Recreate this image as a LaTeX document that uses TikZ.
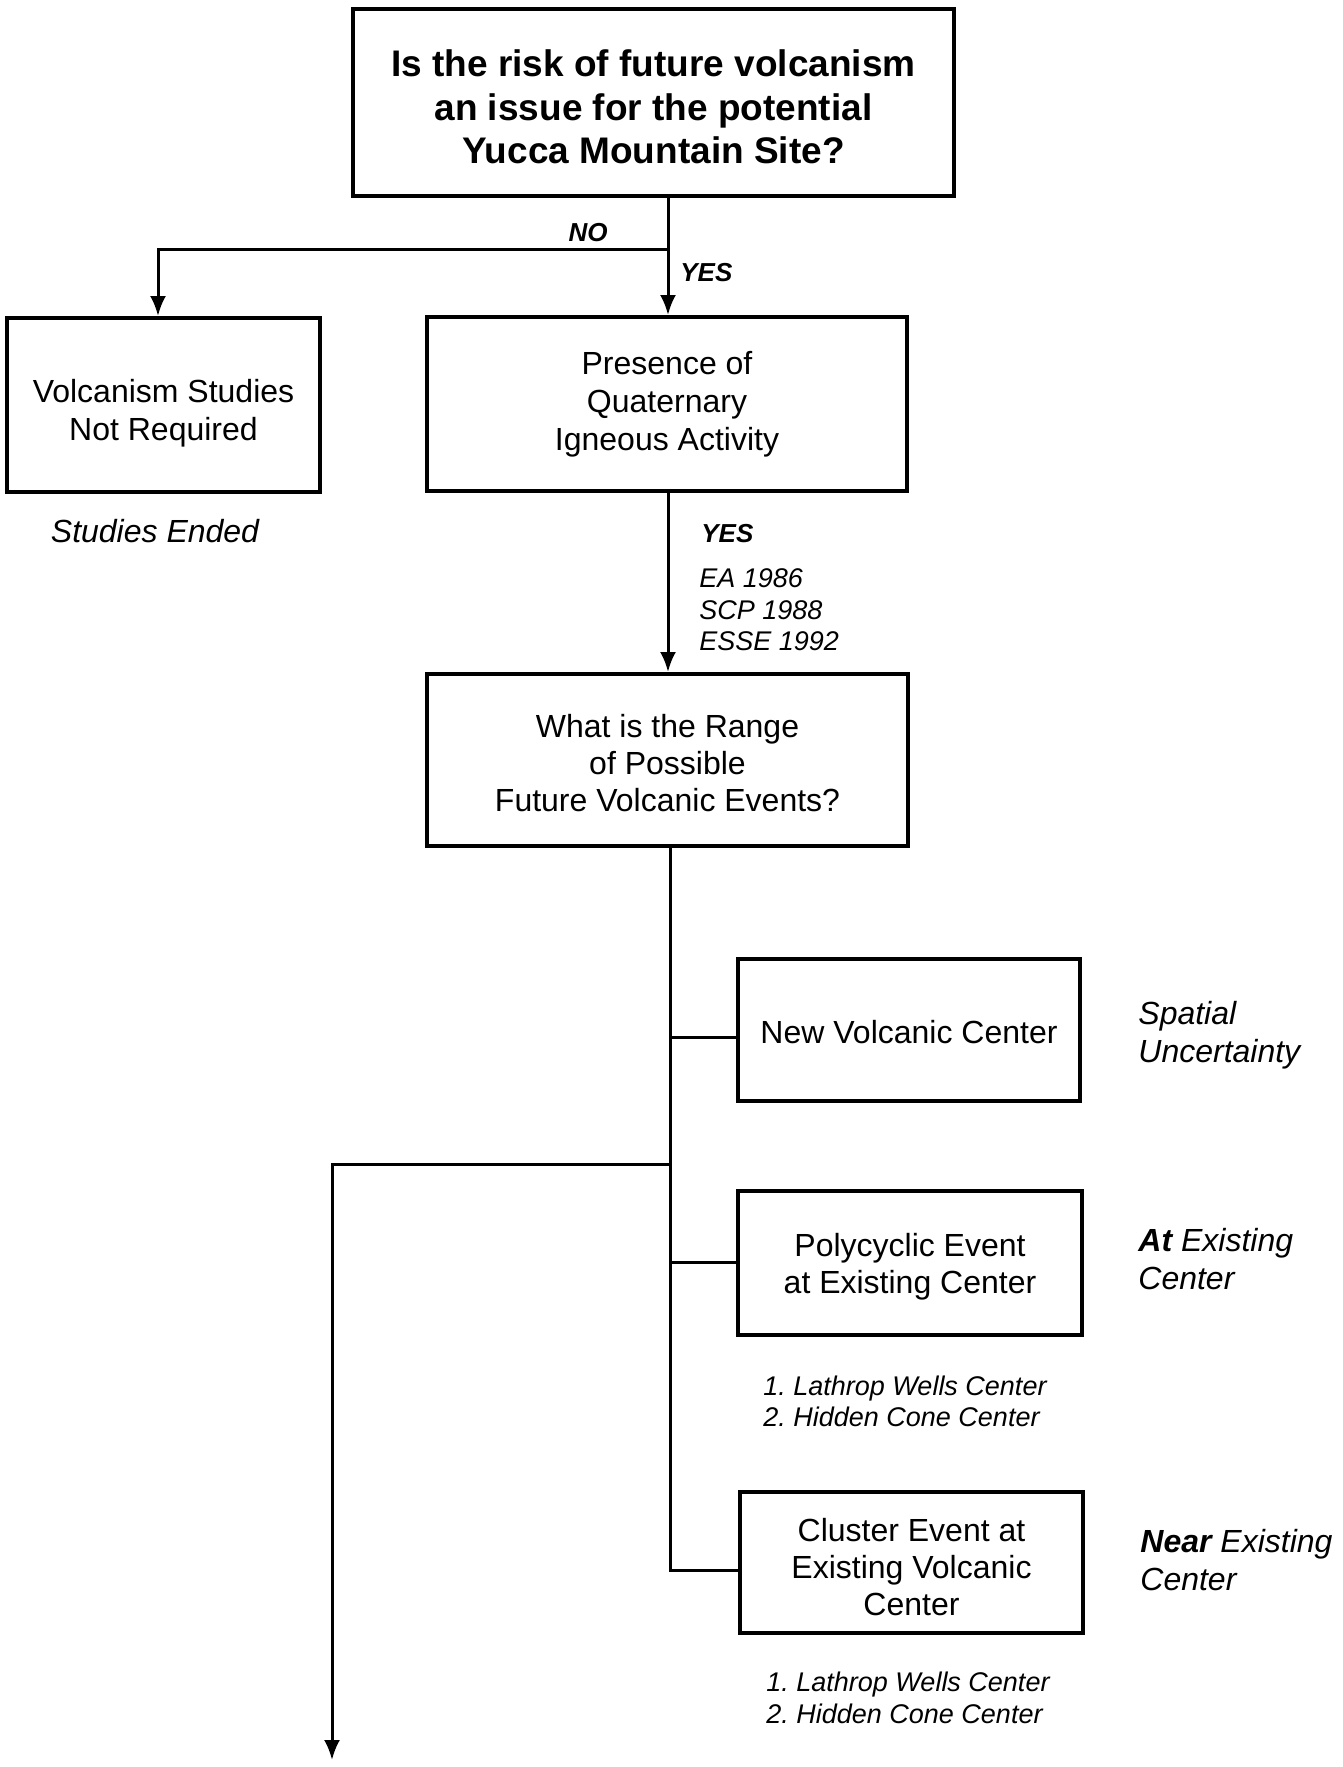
\documentclass[tikz,border=0pt]{standalone}
\usepackage{fontspec}
\setmainfont{Liberation Sans}
\usetikzlibrary{arrows.meta}
\begin{document}
\begin{tikzpicture}[x=0.5pt,y=-0.5pt,
  box/.style={draw, line width=2pt, inner sep=0pt},
  qtext/.style={inner sep=0pt, align=center, font=\fontsize{18.5}{21.75}\selectfont\bfseries},
  btext/.style={inner sep=0pt, align=center, font=\fontsize{16}{18.5}\selectfont},
  link/.style={line width=1.5pt},
  arr/.style={link, -{Latex[length=10pt,width=8pt]}},
  tag/.style={inner sep=0pt, font=\fontsize{13}{15}\selectfont\bfseries\itshape},
  refs/.style={inner sep=0pt, align=left, anchor=west, font=\frenchspacing\fontsize{13.5}{15.75}\selectfont\itshape},
  side/.style={inner sep=0pt, align=left, anchor=west, font=\fontsize{16}{19}\selectfont\itshape},
]
\useasboundingbox (0,0) rectangle (1343,1767);

% frames of the decision and event boxes
\node[box, minimum width=300.5pt, minimum height=93.5pt] (issue) at (653.5,102.5) {};
\node[box, minimum width=156.5pt, minimum height=87pt] (nostudy) at (163.5,405) {};
\node[box, minimum width=240pt, minimum height=87pt] (quat) at (667,404) {};
\node[box, minimum width=240.5pt, minimum height=86pt] (range) at (667.5,760) {};
\node[box, minimum width=171pt, minimum height=71pt] (newc) at (909,1030) {};
\node[box, minimum width=172pt, minimum height=72pt] (poly) at (910,1263) {};
\node[box, minimum width=171.5pt, minimum height=70.5pt] (clus) at (911.5,1562.5) {};

% texts inside the boxes
\node[qtext] (issuetext) at (653.5,107)
  {Is the risk of future volcanism\\an issue for the potential\\Yucca Mountain Site?};
\node[btext, font=\fontsize{16}{19}\selectfont] (nostudytext) at (163.5,413)
  {Volcanism Studies\\Not Required};
\node[btext, font=\fontsize{16}{19}\selectfont] (quattext) at (667,404)
  {Presence of\\Quaternary\\Igneous Activity};
\node[btext] (rangetext) at (667.5,763.5)
  {What is the Range\\of Possible\\Future Volcanic Events?};
\node[btext] (newctext) at (909,1032.5) {New Volcanic Center};
\node[btext] (polytext) at (910,1266.5) {Polycyclic Event\\at Existing Center};
\node[btext] (clustext) at (911.5,1567) {Cluster Event at\\Existing Volcanic\\Center};

% branch points of the connectors
\coordinate (fork) at (668,249);
\coordinate (noturn) at (158,249);
\coordinate (tnew) at (670,1037);
\coordinate (tleft) at (670,1164);
\coordinate (tpoly) at (670,1262);
\coordinate (tclus) at (670,1570);
\coordinate (lturn) at (332,1164);
\coordinate (lend) at (332,1760);

% connectors
\draw[link] (issue.south -| fork) -- (fork);
\draw[arr] (fork) -- (quat.north -| fork);
\draw[arr] (fork) -- (noturn) -- (nostudy.north -| noturn);
\draw[arr] (quat.south -| fork) -- (range.north -| fork);
\draw[link] (range.south -| tnew) -- (tclus) -- (clus.west |- tclus);
\draw[link] (tnew) -- (newc.west |- tnew);
\draw[link] (tpoly) -- (poly.west |- tpoly);
\draw[arr] (tleft) -- (lturn) -- (lend);

% branch labels
\node[tag] (no) at (588,233) {NO};
\node[tag, anchor=west] (yes1) at (680,273) {YES};
\node[tag, anchor=west] (yes2) at (701,534) {YES};
\node[refs] (docs) at (699,610) {EA 1986\\SCP 1988\\ESSE 1992};
\node[inner sep=0pt, font=\fontsize{16}{19}\selectfont\itshape] (ended) at (155,531) {Studies Ended};

% side notes
\node[side] (spatial) at (1138,1035) {Spatial\\Uncertainty};
\node[side] (atc) at (1138,1259) {\textbf{At} Existing\\Center};
\node[side] (nearc) at (1140,1560) {\textbf{Near} Existing\\Center};
\node[refs] (list1) at (763,1401.5) {1. Lathrop Wells Center\\2. Hidden Cone Center};
\node[refs] (list2) at (766,1698) {1. Lathrop Wells Center\\2. Hidden Cone Center};
\end{tikzpicture}
\end{document}
